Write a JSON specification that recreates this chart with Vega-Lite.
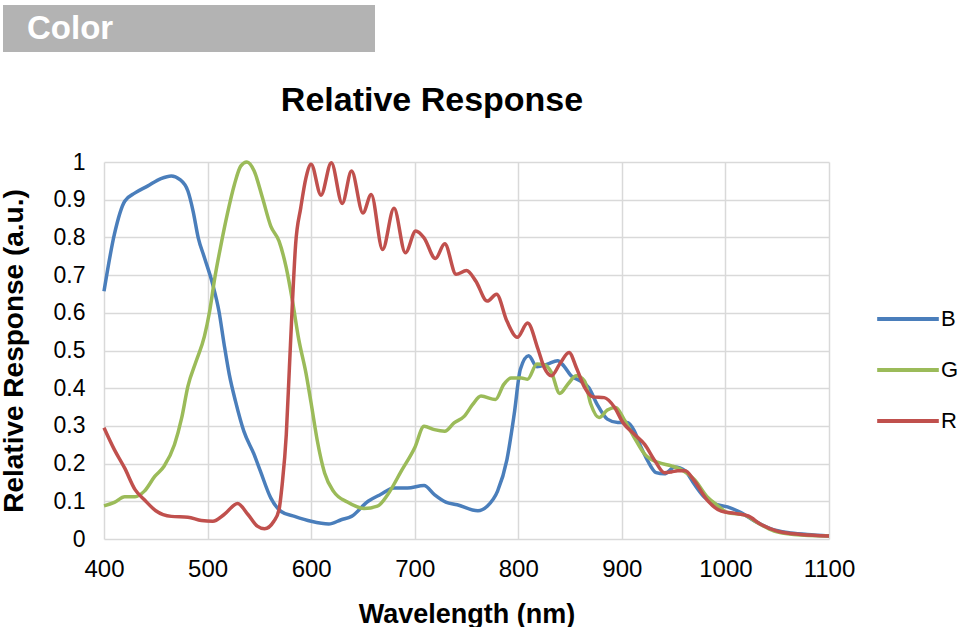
{
  "$schema": "https://vega.github.io/schema/vega-lite/v6.json",
  "description": "Relative spectral response of the B, G and R channels of a colour sensor",
  "background": "white",
  "padding": {"left": 0, "top": 5, "right": 0, "bottom": 0},
  "spacing": 32,
  "config": {
    "font": "Liberation Sans",
    "view": {"stroke": null}
  },
  "vconcat": [
    {
      "width": 372,
      "height": 47,
      "view": {"fill": "#b3b3b3", "stroke": null},
      "data": {"values": [{"label": "Color", "pos": 0}]},
      "mark": {
        "type": "text",
        "align": "left",
        "baseline": "middle",
        "dx": 24,
        "fontSize": 33,
        "fontWeight": "bold",
        "color": "white"
      },
      "encoding": {
        "x": {"field": "pos", "type": "quantitative", "scale": {"domain": [0, 1]}, "axis": null},
        "text": {"field": "label"}
      }
    },
    {
      "width": 826,
      "height": 377,
      "title": {
        "text": "Relative Response",
        "anchor": "middle",
        "frame": "group",
        "dx": 16,
        "offset": 33,
        "fontSize": 34,
        "fontWeight": "bold",
        "color": "black"
      },
      "data": {
        "values": [
          {"wl": 400, "ch": "B", "r": 0.657},
          {"wl": 410, "ch": "B", "r": 0.808},
          {"wl": 420, "ch": "B", "r": 0.896},
          {"wl": 430, "ch": "B", "r": 0.918},
          {"wl": 442, "ch": "B", "r": 0.936},
          {"wl": 455, "ch": "B", "r": 0.956},
          {"wl": 465, "ch": "B", "r": 0.963},
          {"wl": 473, "ch": "B", "r": 0.954},
          {"wl": 481, "ch": "B", "r": 0.923},
          {"wl": 486, "ch": "B", "r": 0.87},
          {"wl": 491, "ch": "B", "r": 0.799},
          {"wl": 497, "ch": "B", "r": 0.746},
          {"wl": 505, "ch": "B", "r": 0.675},
          {"wl": 511, "ch": "B", "r": 0.604},
          {"wl": 516, "ch": "B", "r": 0.516},
          {"wl": 521, "ch": "B", "r": 0.436},
          {"wl": 527, "ch": "B", "r": 0.365},
          {"wl": 535, "ch": "B", "r": 0.286},
          {"wl": 545, "ch": "B", "r": 0.224},
          {"wl": 551, "ch": "B", "r": 0.18},
          {"wl": 561, "ch": "B", "r": 0.109},
          {"wl": 571, "ch": "B", "r": 0.073},
          {"wl": 584, "ch": "B", "r": 0.06},
          {"wl": 600, "ch": "B", "r": 0.047},
          {"wl": 617, "ch": "B", "r": 0.04},
          {"wl": 629, "ch": "B", "r": 0.051},
          {"wl": 639, "ch": "B", "r": 0.06},
          {"wl": 655, "ch": "B", "r": 0.1},
          {"wl": 667, "ch": "B", "r": 0.118},
          {"wl": 680, "ch": "B", "r": 0.135},
          {"wl": 693, "ch": "B", "r": 0.135},
          {"wl": 709, "ch": "B", "r": 0.142},
          {"wl": 719, "ch": "B", "r": 0.118},
          {"wl": 730, "ch": "B", "r": 0.098},
          {"wl": 741, "ch": "B", "r": 0.091},
          {"wl": 761, "ch": "B", "r": 0.075},
          {"wl": 770, "ch": "B", "r": 0.087},
          {"wl": 780, "ch": "B", "r": 0.127},
          {"wl": 789, "ch": "B", "r": 0.21},
          {"wl": 796, "ch": "B", "r": 0.33},
          {"wl": 802, "ch": "B", "r": 0.45},
          {"wl": 810, "ch": "B", "r": 0.486},
          {"wl": 818, "ch": "B", "r": 0.457},
          {"wl": 828, "ch": "B", "r": 0.464},
          {"wl": 838, "ch": "B", "r": 0.473},
          {"wl": 844, "ch": "B", "r": 0.459},
          {"wl": 851, "ch": "B", "r": 0.433},
          {"wl": 860, "ch": "B", "r": 0.419},
          {"wl": 868, "ch": "B", "r": 0.402},
          {"wl": 876, "ch": "B", "r": 0.358},
          {"wl": 886, "ch": "B", "r": 0.318},
          {"wl": 896, "ch": "B", "r": 0.309},
          {"wl": 905, "ch": "B", "r": 0.309},
          {"wl": 912, "ch": "B", "r": 0.287},
          {"wl": 918, "ch": "B", "r": 0.247},
          {"wl": 925, "ch": "B", "r": 0.207},
          {"wl": 933, "ch": "B", "r": 0.176},
          {"wl": 941, "ch": "B", "r": 0.173},
          {"wl": 951, "ch": "B", "r": 0.191},
          {"wl": 961, "ch": "B", "r": 0.181},
          {"wl": 970, "ch": "B", "r": 0.145},
          {"wl": 980, "ch": "B", "r": 0.11},
          {"wl": 989, "ch": "B", "r": 0.094},
          {"wl": 1002, "ch": "B", "r": 0.085},
          {"wl": 1015, "ch": "B", "r": 0.07},
          {"wl": 1028, "ch": "B", "r": 0.048},
          {"wl": 1044, "ch": "B", "r": 0.027},
          {"wl": 1060, "ch": "B", "r": 0.017},
          {"wl": 1079, "ch": "B", "r": 0.012},
          {"wl": 1100, "ch": "B", "r": 0.008},

          {"wl": 400, "ch": "G", "r": 0.088},
          {"wl": 410, "ch": "G", "r": 0.097},
          {"wl": 420, "ch": "G", "r": 0.112},
          {"wl": 430, "ch": "G", "r": 0.112},
          {"wl": 439, "ch": "G", "r": 0.127},
          {"wl": 449, "ch": "G", "r": 0.166},
          {"wl": 458, "ch": "G", "r": 0.193},
          {"wl": 468, "ch": "G", "r": 0.25},
          {"wl": 475, "ch": "G", "r": 0.321},
          {"wl": 481, "ch": "G", "r": 0.405},
          {"wl": 489, "ch": "G", "r": 0.472},
          {"wl": 497, "ch": "G", "r": 0.538},
          {"wl": 502, "ch": "G", "r": 0.604},
          {"wl": 507, "ch": "G", "r": 0.693},
          {"wl": 513, "ch": "G", "r": 0.781},
          {"wl": 519, "ch": "G", "r": 0.861},
          {"wl": 526, "ch": "G", "r": 0.941},
          {"wl": 532, "ch": "G", "r": 0.989},
          {"wl": 538, "ch": "G", "r": 1.0},
          {"wl": 545, "ch": "G", "r": 0.976},
          {"wl": 553, "ch": "G", "r": 0.905},
          {"wl": 561, "ch": "G", "r": 0.83},
          {"wl": 569, "ch": "G", "r": 0.79},
          {"wl": 576, "ch": "G", "r": 0.719},
          {"wl": 582, "ch": "G", "r": 0.631},
          {"wl": 588, "ch": "G", "r": 0.53},
          {"wl": 595, "ch": "G", "r": 0.44},
          {"wl": 600, "ch": "G", "r": 0.36},
          {"wl": 606, "ch": "G", "r": 0.26},
          {"wl": 613, "ch": "G", "r": 0.175},
          {"wl": 622, "ch": "G", "r": 0.125},
          {"wl": 635, "ch": "G", "r": 0.098},
          {"wl": 651, "ch": "G", "r": 0.081},
          {"wl": 664, "ch": "G", "r": 0.087},
          {"wl": 674, "ch": "G", "r": 0.118},
          {"wl": 687, "ch": "G", "r": 0.18},
          {"wl": 700, "ch": "G", "r": 0.242},
          {"wl": 709, "ch": "G", "r": 0.299},
          {"wl": 719, "ch": "G", "r": 0.29},
          {"wl": 729, "ch": "G", "r": 0.286},
          {"wl": 738, "ch": "G", "r": 0.308},
          {"wl": 748, "ch": "G", "r": 0.326},
          {"wl": 756, "ch": "G", "r": 0.357},
          {"wl": 764, "ch": "G", "r": 0.379},
          {"wl": 778, "ch": "G", "r": 0.37},
          {"wl": 786, "ch": "G", "r": 0.41},
          {"wl": 793, "ch": "G", "r": 0.427},
          {"wl": 803, "ch": "G", "r": 0.427},
          {"wl": 809, "ch": "G", "r": 0.424},
          {"wl": 818, "ch": "G", "r": 0.464},
          {"wl": 825, "ch": "G", "r": 0.462},
          {"wl": 832, "ch": "G", "r": 0.442},
          {"wl": 840, "ch": "G", "r": 0.386},
          {"wl": 848, "ch": "G", "r": 0.411},
          {"wl": 856, "ch": "G", "r": 0.433},
          {"wl": 864, "ch": "G", "r": 0.419},
          {"wl": 870, "ch": "G", "r": 0.358},
          {"wl": 878, "ch": "G", "r": 0.322},
          {"wl": 886, "ch": "G", "r": 0.342},
          {"wl": 894, "ch": "G", "r": 0.349},
          {"wl": 902, "ch": "G", "r": 0.318},
          {"wl": 912, "ch": "G", "r": 0.269},
          {"wl": 922, "ch": "G", "r": 0.225},
          {"wl": 935, "ch": "G", "r": 0.203},
          {"wl": 948, "ch": "G", "r": 0.194},
          {"wl": 958, "ch": "G", "r": 0.183},
          {"wl": 970, "ch": "G", "r": 0.158},
          {"wl": 983, "ch": "G", "r": 0.11},
          {"wl": 991, "ch": "G", "r": 0.092},
          {"wl": 1002, "ch": "G", "r": 0.07},
          {"wl": 1018, "ch": "G", "r": 0.064},
          {"wl": 1031, "ch": "G", "r": 0.043},
          {"wl": 1047, "ch": "G", "r": 0.021},
          {"wl": 1066, "ch": "G", "r": 0.012},
          {"wl": 1100, "ch": "G", "r": 0.008},

          {"wl": 400, "ch": "R", "r": 0.295},
          {"wl": 410, "ch": "R", "r": 0.237},
          {"wl": 420, "ch": "R", "r": 0.188},
          {"wl": 430, "ch": "R", "r": 0.131},
          {"wl": 439, "ch": "R", "r": 0.104},
          {"wl": 450, "ch": "R", "r": 0.075},
          {"wl": 465, "ch": "R", "r": 0.06},
          {"wl": 481, "ch": "R", "r": 0.058},
          {"wl": 494, "ch": "R", "r": 0.049},
          {"wl": 505, "ch": "R", "r": 0.047},
          {"wl": 516, "ch": "R", "r": 0.065},
          {"wl": 529, "ch": "R", "r": 0.094},
          {"wl": 539, "ch": "R", "r": 0.065},
          {"wl": 548, "ch": "R", "r": 0.034},
          {"wl": 555, "ch": "R", "r": 0.027},
          {"wl": 564, "ch": "R", "r": 0.047},
          {"wl": 569, "ch": "R", "r": 0.078},
          {"wl": 572, "ch": "R", "r": 0.144},
          {"wl": 576, "ch": "R", "r": 0.277},
          {"wl": 579, "ch": "R", "r": 0.454},
          {"wl": 582, "ch": "R", "r": 0.631},
          {"wl": 585, "ch": "R", "r": 0.781},
          {"wl": 590, "ch": "R", "r": 0.879},
          {"wl": 595, "ch": "R", "r": 0.958},
          {"wl": 600, "ch": "R", "r": 0.994},
          {"wl": 609.5, "ch": "R", "r": 0.912},
          {"wl": 619.5, "ch": "R", "r": 0.998},
          {"wl": 630, "ch": "R", "r": 0.89},
          {"wl": 639, "ch": "R", "r": 0.976},
          {"wl": 650, "ch": "R", "r": 0.865},
          {"wl": 658, "ch": "R", "r": 0.914},
          {"wl": 669, "ch": "R", "r": 0.768},
          {"wl": 680, "ch": "R", "r": 0.877},
          {"wl": 691, "ch": "R", "r": 0.759},
          {"wl": 701, "ch": "R", "r": 0.817},
          {"wl": 709, "ch": "R", "r": 0.799},
          {"wl": 720, "ch": "R", "r": 0.744},
          {"wl": 729, "ch": "R", "r": 0.783},
          {"wl": 740, "ch": "R", "r": 0.702},
          {"wl": 750, "ch": "R", "r": 0.712},
          {"wl": 759, "ch": "R", "r": 0.684},
          {"wl": 770, "ch": "R", "r": 0.631},
          {"wl": 779, "ch": "R", "r": 0.649},
          {"wl": 789, "ch": "R", "r": 0.578},
          {"wl": 799, "ch": "R", "r": 0.535},
          {"wl": 809, "ch": "R", "r": 0.573},
          {"wl": 819, "ch": "R", "r": 0.504},
          {"wl": 825, "ch": "R", "r": 0.455},
          {"wl": 832, "ch": "R", "r": 0.433},
          {"wl": 840, "ch": "R", "r": 0.464},
          {"wl": 849, "ch": "R", "r": 0.495},
          {"wl": 856, "ch": "R", "r": 0.455},
          {"wl": 864, "ch": "R", "r": 0.402},
          {"wl": 872, "ch": "R", "r": 0.377},
          {"wl": 883, "ch": "R", "r": 0.375},
          {"wl": 893, "ch": "R", "r": 0.349},
          {"wl": 901, "ch": "R", "r": 0.309},
          {"wl": 912, "ch": "R", "r": 0.278},
          {"wl": 922, "ch": "R", "r": 0.251},
          {"wl": 932, "ch": "R", "r": 0.207},
          {"wl": 941, "ch": "R", "r": 0.176},
          {"wl": 948, "ch": "R", "r": 0.178},
          {"wl": 954, "ch": "R", "r": 0.181},
          {"wl": 961, "ch": "R", "r": 0.181},
          {"wl": 970, "ch": "R", "r": 0.154},
          {"wl": 983, "ch": "R", "r": 0.101},
          {"wl": 996, "ch": "R", "r": 0.074},
          {"wl": 1009, "ch": "R", "r": 0.068},
          {"wl": 1022, "ch": "R", "r": 0.061},
          {"wl": 1034, "ch": "R", "r": 0.039},
          {"wl": 1050, "ch": "R", "r": 0.021},
          {"wl": 1073, "ch": "R", "r": 0.012},
          {"wl": 1100, "ch": "R", "r": 0.008}
        ]
      },
      "mark": {"type": "line", "interpolate": "monotone", "strokeWidth": 3.5},
      "encoding": {
        "x": {
          "field": "wl",
          "type": "quantitative",
          "scale": {"domain": [400, 1100], "range": [101, 826], "nice": false},
          "axis": {
            "title": "Wavelength (nm)",
            "values": [400, 500, 600, 700, 800, 900, 1000, 1100],
            "format": "d",
            "labelFlush": false,
            "domain": false,
            "ticks": false,
            "tickSize": 0,
            "grid": true,
            "gridColor": "#d9d9d9",
            "gridWidth": 1.5,
            "labelFontSize": 24,
            "labelColor": "black",
            "labelPadding": 18,
            "titleFontSize": 27,
            "titleFontWeight": "bold",
            "titleColor": "black",
            "titlePadding": 20
          }
        },
        "y": {
          "field": "r",
          "type": "quantitative",
          "scale": {"domain": [0, 1], "nice": false},
          "axis": {
            "title": "Relative Response (a.u.)",
            "values": [0, 0.1, 0.2, 0.3, 0.4, 0.5, 0.6, 0.7, 0.8, 0.9, 1],
            "format": "~g",
            "offset": -101,
            "labelFlush": false,
            "domain": false,
            "ticks": false,
            "tickSize": 0,
            "grid": true,
            "gridColor": "#d9d9d9",
            "gridWidth": 1.5,
            "labelFontSize": 23,
            "labelColor": "black",
            "labelPadding": 19,
            "titleFontSize": 28,
            "titleFontWeight": "bold",
            "titleColor": "black",
            "titlePadding": 25
          }
        },
        "color": {
          "field": "ch",
          "type": "nominal",
          "scale": {"domain": ["B", "G", "R"], "range": ["#4a7ebb", "#9bbb59", "#c0504d"]},
          "legend": {
            "title": null,
            "orient": "none",
            "legendX": 872,
            "legendY": 281,
            "symbolType": "stroke",
            "symbolSize": 3800,
            "symbolStrokeWidth": 4,
            "labelFontSize": 22,
            "labelColor": "black",
            "labelOffset": 0,
            "rowPadding": 7
          }
        }
      }
    }
  ]
}
